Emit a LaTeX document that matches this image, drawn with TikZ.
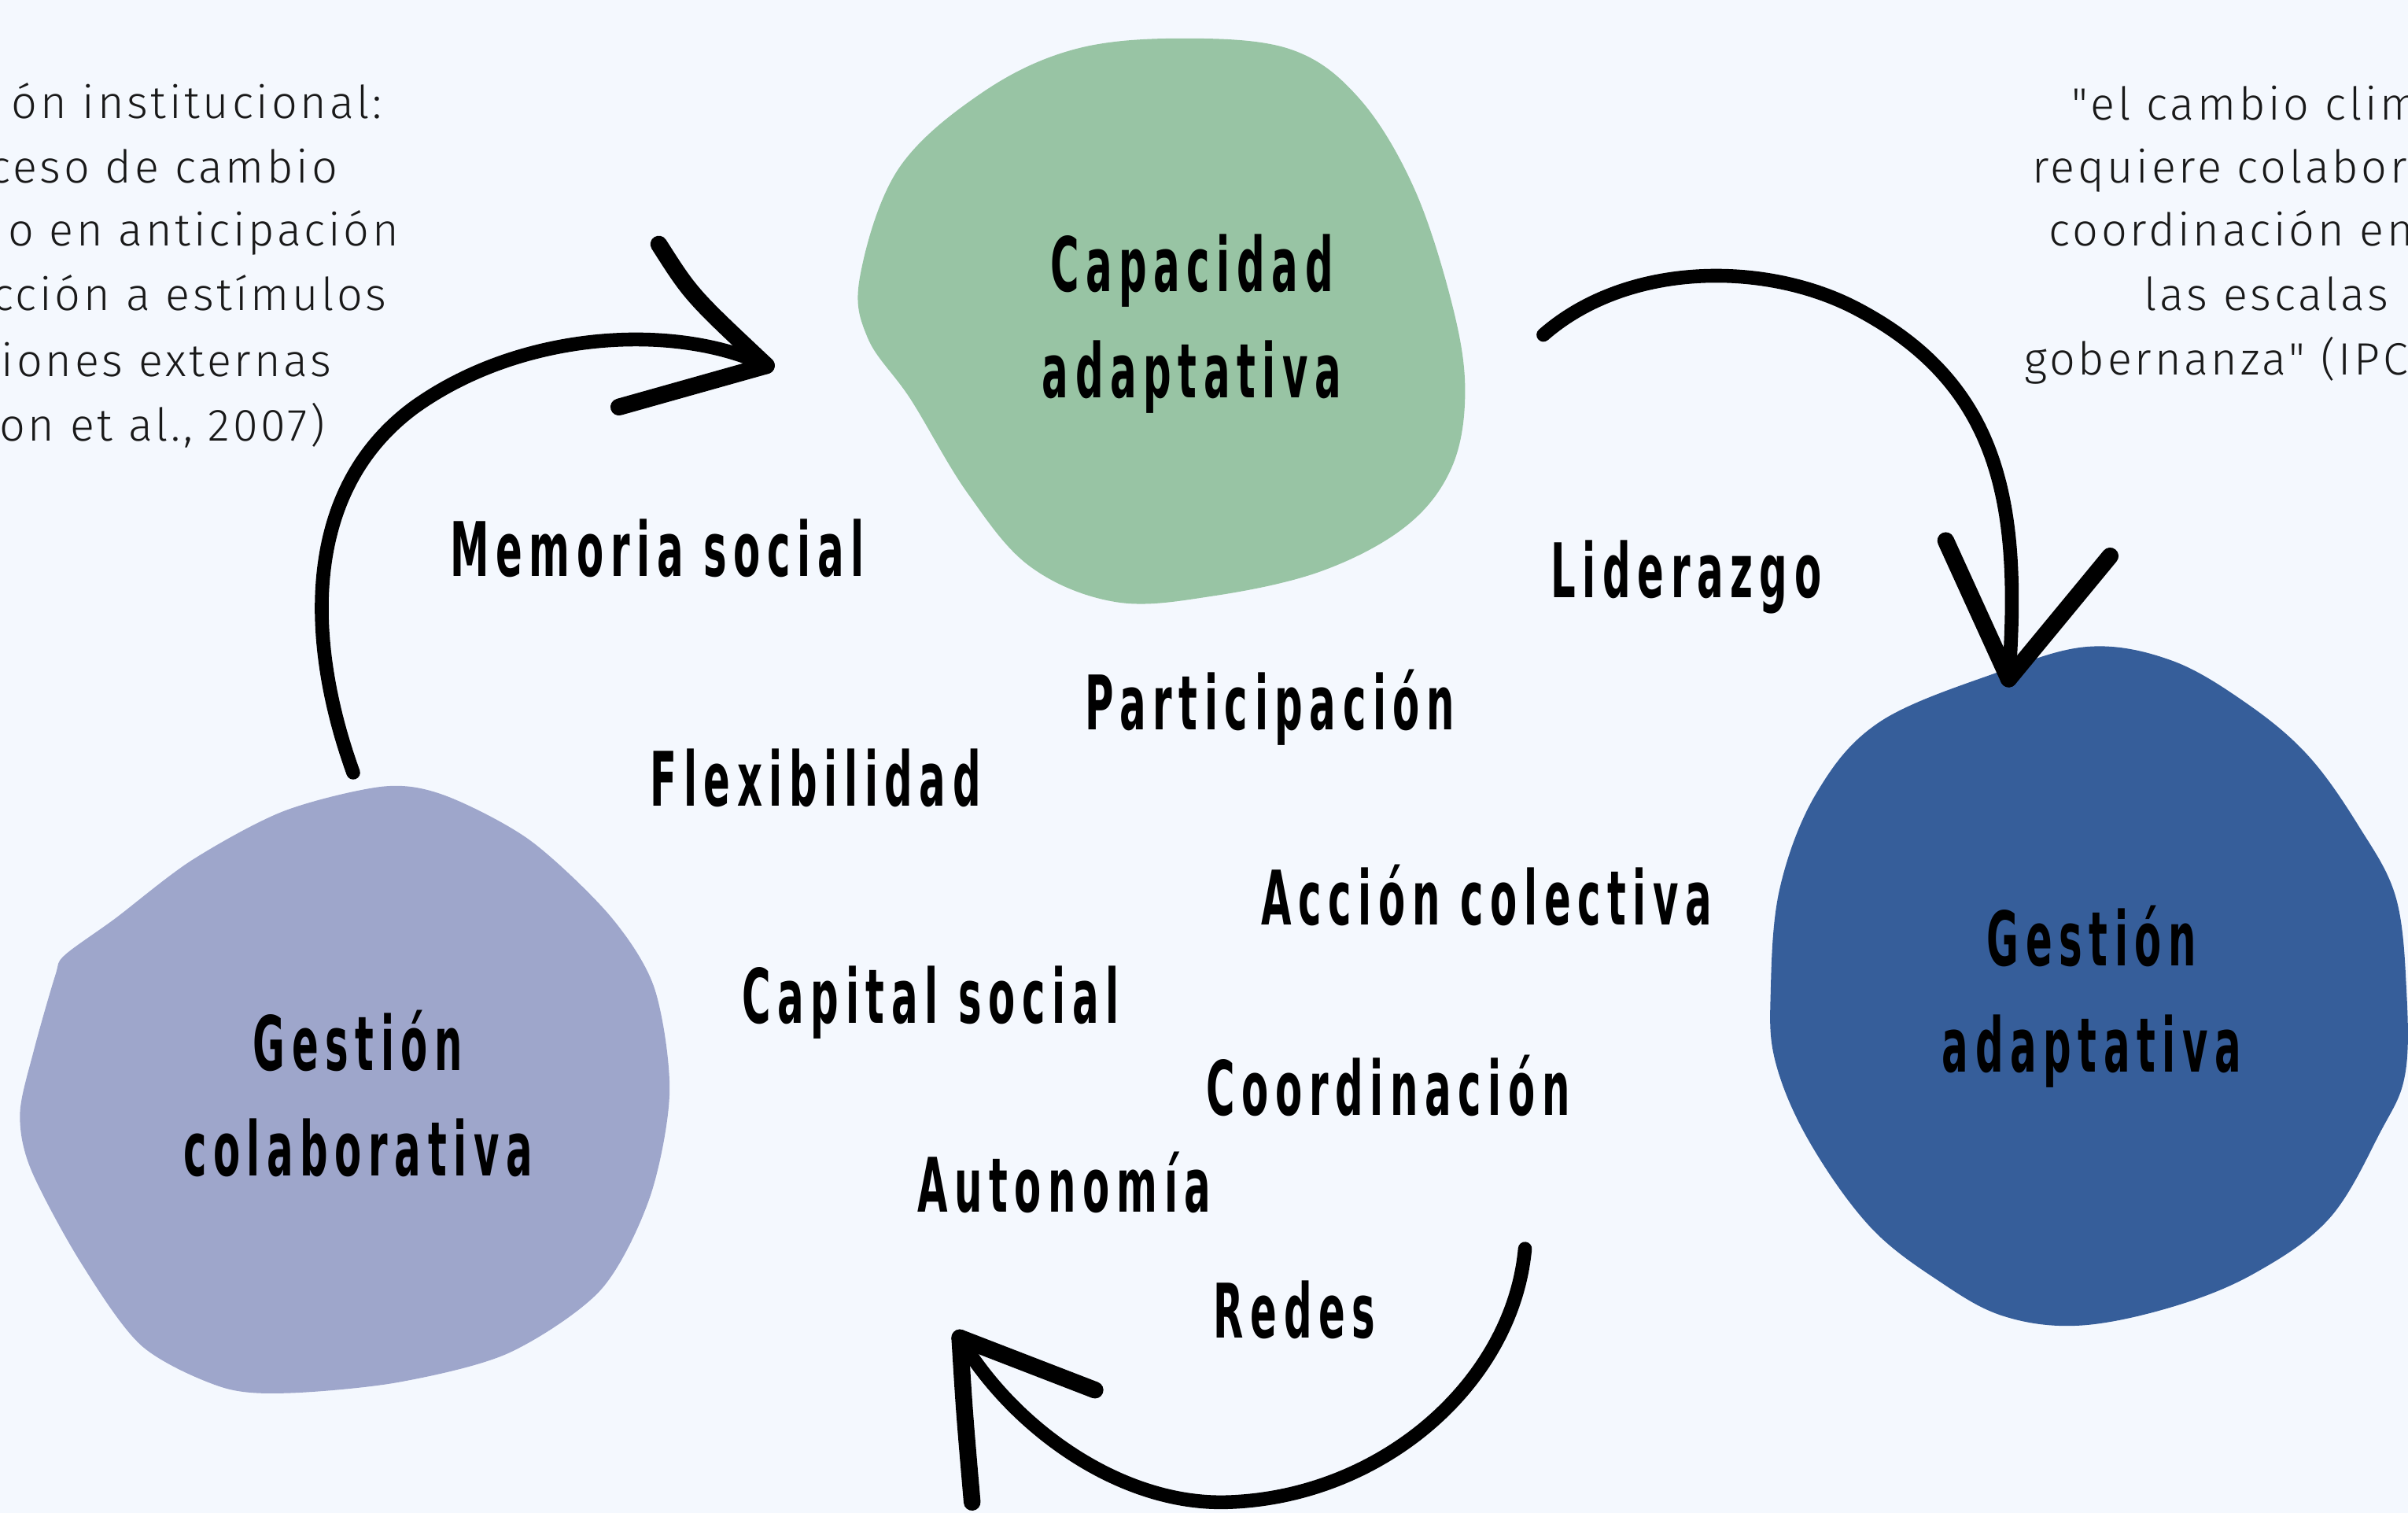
\documentclass[tikz,border=0pt]{standalone}
\usepackage{fontspec}
\newfontfamily\labfont{DejaVu Sans}[UprightFont=* Bold, FakeStretch=0.52, LetterSpace=9]
\newfontfamily\quotefont{Fira Sans}[UprightFont=* Light, LetterSpace=6.5]
\definecolor{bgc}{RGB}{244,248,254}
\definecolor{greenb}{RGB}{152,196,164}
\definecolor{blueb}{RGB}{54,94,154}
\definecolor{purpb}{RGB}{158,166,203}
\definecolor{qtext}{RGB}{25,25,25}
\tikzset{
  lab/.style={font=\labfont\fontsize{49}{69}\selectfont, inner sep=0pt, align=center, text=black},
  quote/.style={font=\quotefont\fontsize{29.5}{41}\selectfont, inner sep=0pt, text=qtext},
  shaft/.style={draw=black, line width=9pt, line cap=round},
  barb/.style={draw=black, line width=11pt, line cap=round}
}
\begin{document}
\begin{tikzpicture}[x=1pt, y=-1pt]
\useasboundingbox (0,0) rectangle (1568,985);
\fill[bgc] (0,0) rectangle (1568,985);

% blobs
\fill[greenb] plot[smooth cycle, tension=0.6] coordinates {
 (560,180) (585,110) (640,60) (700,32) (770,25) (840,32) (885,64) (921,123)
 (946,200) (954,256) (945,305) (915,343) (860,372) (790,388) (727,392)
 (671,369) (630,321) (593,260) (565,220)};
\fill[blueb] plot[smooth cycle, tension=0.6] coordinates {
 (1360,421) (1300,438) (1224,470) (1183,516) (1159,578) (1153,645) (1156,691)
 (1178,743) (1218,799) (1264,835) (1305,857) (1354,863) (1414,851) (1468,829)
 (1517,793) (1550,737) (1566,700) (1567,645) (1560,584) (1536,538) (1503,492)
 (1463,458) (1414,430)};
\fill[purpb] plot[smooth cycle, tension=0.5] coordinates {
 (250,512) (185,528) (125,560) (75,598) (42,622) (36,635) (22,684) (13,725)
 (20,761) (52,821) (92,876) (144,903) (187,907) (259,900) (331,881) (391,840)
 (423,780) (436,711) (426,643) (397,596) (345,547) (290,518)};

% blob labels
\node[lab] (capad) at (776,211) {Capacidad\\adaptativa};
\node[lab] (gesad) at (1362,649) {Gestión\\adaptativa};
\node[lab] (gescol) at (233,712) {Gestión\\colaborativa};

% concept labels
\node[lab, anchor=base] (memoria) at (428,375) {Memoria social};
\node[lab, anchor=base] (lider) at (1098,389) {Liderazgo};
\node[lab, anchor=base] (partic) at (827,475) {Participación};
\node[lab, anchor=base] (flex) at (531,525) {Flexibilidad};
\node[lab, anchor=base] (accion) at (968,602) {Acción colectiva};
\node[lab, anchor=base] (capital) at (606,666) {Capital social};
\node[lab, anchor=base] (coord) at (904,726) {Coordinación};
\node[lab, anchor=base] (auton) at (693,789) {Autonomía};
\node[lab, anchor=base] (redes) at (843,871) {Redes};

% left quote (cut by the page edge)
\node[quote, anchor=base east] (ql1) at (249,77) {ón institucional:};
\node[quote, anchor=base east] (ql2) at (220,119) {ceso de cambio};
\node[quote, anchor=base east] (ql3) at (260,160) {o en anticipación};
\node[quote, anchor=base east] (ql4) at (252,202) {cción a estímulos};
\node[quote, anchor=base east] (ql5) at (216,245) {iones externas};
\node[quote, anchor=base east] (ql6) at (212,287) {on et al., 2007)};

% right quote (cut by the page edge)
\node[quote, anchor=base west] (qr1) at (1349,78) {"el cambio clim};
\node[quote, anchor=base west] (qr2) at (1323,119) {requiere colabor};
\node[quote, anchor=base west] (qr3) at (1334,160) {coordinación en};
\node[quote, anchor=base west] (qr4) at (1396,202) {las escalas};
\node[quote, anchor=base west] (qr5) at (1318,244) {gobernanza" (IPC};

% arrow 1: colaborativa -> capacidad
\coordinate (a1s) at (230,503);
\coordinate (a1t) at (499,238);
\coordinate (a1u) at (429,159);
\coordinate (a1l) at (403,265);
\draw[shaft] (a1s) .. controls (200,420) and (195,320) .. (270,265)
  .. controls (340,215) and (440,210) .. (a1t);
\draw[barb] (a1u) .. controls (450,192) .. (a1t);
\draw[barb] (a1l) -- (a1t);

% arrow 2: capacidad -> gestion adaptativa
\coordinate (a2s) at (1005,218);
\coordinate (a2t) at (1308,442);
\coordinate (a2l) at (1267,352);
\coordinate (a2r) at (1374,362);
\draw[shaft] (a2s) .. controls (1060,170) and (1150,170) .. (1209,201)
  .. controls (1304,251) and (1316,330) .. (a2t);
\draw[barb] (a2l) -- (a2t);
\draw[barb] (a2r) -- (a2t);

% arrow 3: gestion adaptativa -> colaborativa
\coordinate (a3s) at (993,813);
\coordinate (a3t) at (625,871);
\coordinate (a3v) at (633,978);
\coordinate (a3d) at (713,905);
\draw[shaft] (a3s) .. controls (985,900) and (900,975) .. (799,978)
  .. controls (730,980) and (660,930) .. (a3t);
\draw[barb] (a3v) .. controls (628,920) .. (a3t);
\draw[barb] (a3d) -- (a3t);
\end{tikzpicture}
\end{document}
